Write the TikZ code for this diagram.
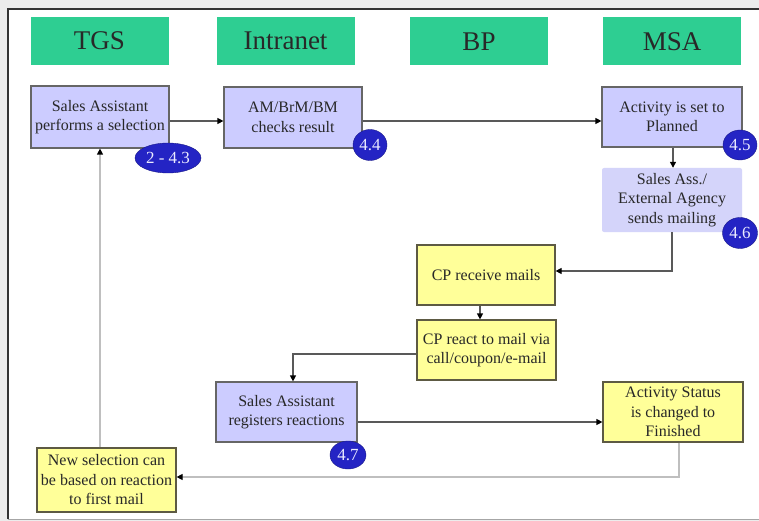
\documentclass[tikz,border=0pt]{standalone}
\usepackage{fontspec}
\setmainfont{Liberation Serif}
\usetikzlibrary{arrows.meta,shapes.geometric}
\definecolor{headgreen}{RGB}{46,206,146}
\definecolor{lav}{RGB}{204,204,255}
\definecolor{lavlight}{RGB}{212,212,250}
\definecolor{pale}{RGB}{255,255,153}
\definecolor{badgeblue}{RGB}{36,36,196}
\definecolor{ink}{RGB}{40,40,40}
\definecolor{framegray}{RGB}{236,236,236}
\tikzset{
  x=1pt, y=-1pt,
  header/.style={fill=headgreen, minimum width=138pt, minimum height=48pt,
    font=\fontsize{27}{30}\selectfont, text=ink, inner sep=0pt},
  taskbox/.style={fill=lav, draw=black!60, line width=1.2pt, align=center,
    font=\fontsize{16}{19.5}\selectfont, text=ink, inner sep=1pt},
  softbox/.style={fill=lavlight, align=center, rounded corners=2pt,
    font=\fontsize{16}{19.5}\selectfont, text=ink, inner sep=1pt},
  notebox/.style={fill=pale, draw=black!55!yellow!60!black, line width=1.2pt, align=center,
    font=\fontsize{16}{19.5}\selectfont, text=ink, inner sep=1pt},
  badge/.style={ellipse, fill=badgeblue, draw=badgeblue!70!black, text=white!92!blue,
    font=\fontsize{17}{19}\selectfont, inner sep=0pt},
  flow/.style={line width=1.2pt, draw=black!65, -{Triangle[length=6pt,width=6pt,color=black]}},
  backflow/.style={line width=1.2pt, draw=black!25, -{Triangle[length=6pt,width=6pt,color=black]}},
}
\begin{document}
\begin{tikzpicture}
\useasboundingbox (0,0) rectangle (759,521);
% page frame
\fill[framegray] (0,0) rectangle (759,521);
\fill[white] (8,9) rectangle (759,519);
\draw[black!80, line width=1.2pt] (8,519) -- (8,9) -- (759,9);
\draw[black!35, line width=1pt] (8,519) -- (759,519);

% column headers
\node[header] (tgs) at (99.5,41) {TGS};
\node[header] (intra) at (285.5,41) {Intranet};
\node[header] (bp) at (479,41.5) {BP};
\node[header] (msa) at (672,41.5) {MSA};

% process steps
\node[taskbox, minimum width=138pt, minimum height=62pt] (sel) at (100,117)
  {Sales Assistant\\performs a selection};
\node[taskbox, minimum width=138pt, minimum height=61pt] (chk) at (293,117.5)
  {AM/BrM/BM\\checks result};
\node[taskbox, minimum width=140pt, minimum height=60pt] (plan) at (672,117)
  {Activity is set to\\Planned};
\node[softbox, minimum width=140pt, minimum height=64pt] (send) at (672,200)
  {Sales Ass./\\External Agency\\sends mailing};
\node[notebox, minimum width=138pt, minimum height=60pt] (recv) at (486,275)
  {CP receive mails};
\node[notebox, minimum width=139pt, minimum height=60pt] (react) at (486.5,350)
  {CP react to mail via\\call/coupon/e-mail};
\node[taskbox, minimum width=141pt, minimum height=60pt] (reg) at (286.5,412)
  {Sales Assistant\\registers reactions};
\node[notebox, minimum width=140pt, minimum height=60pt] (fin) at (673,412)
  {Activity Status\\is changed to\\Finished};
\node[notebox, minimum width=139pt, minimum height=64pt] (newsel) at (106.5,480)
  {New selection can\\be based on reaction\\to first mail};

% step numbers
\node[badge, minimum width=66pt, minimum height=30pt] (n1) at (168,158) {2 - 4.3};
\node[badge, minimum width=34pt, minimum height=31pt] (n2) at (370,145) {4.4};
\node[badge, minimum width=34pt, minimum height=30pt] (n3) at (740,145) {4.5};
\node[badge, minimum width=35pt, minimum height=31pt] (n4) at (740,233) {4.6};
\node[badge, minimum width=36pt, minimum height=28pt] (n5) at (348,455) {4.7};

% connectors
\draw[flow] ([yshift=-4pt]sel.east) -- ([yshift=-3.5pt]chk.west);
\draw[flow] ([yshift=-3.5pt]chk.east) -- ([yshift=-4pt]plan.west);
\draw[flow] ([xshift=1pt]plan.south) -- ([xshift=1pt]send.north);
\draw[flow] (send.south) |- ([yshift=4pt]recv.east);
\draw[flow] ([xshift=-6pt]recv.south) -- ([xshift=-6.5pt]react.north);
\draw[flow] ([yshift=-4pt]react.west) -| ([xshift=6.5pt]reg.north);
\draw[flow] ([yshift=-10pt]reg.east) -- ([yshift=-10pt]fin.west);
\draw[backflow] ([xshift=6pt]fin.south) |- ([yshift=3pt]newsel.east);
\draw[backflow] (newsel.north -| sel.south) -- (sel.south);
\end{tikzpicture}
\end{document}
